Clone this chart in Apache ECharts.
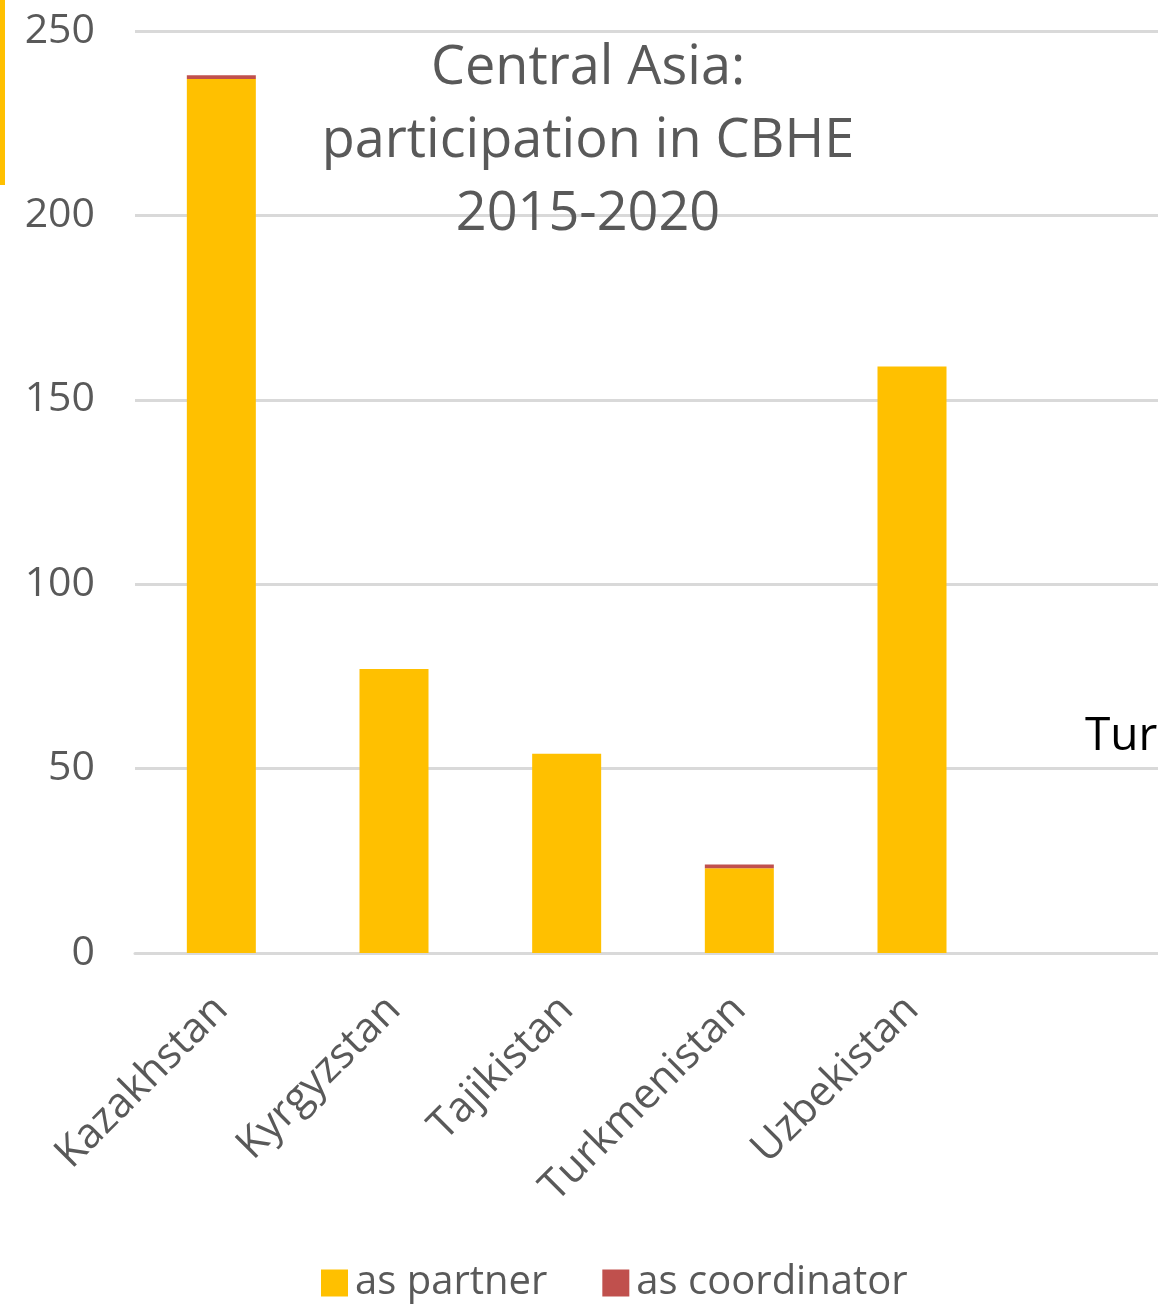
<!DOCTYPE html>
<html><head><meta charset="utf-8">
<script src="https://cdn.jsdelivr.net/npm/echarts@6/dist/echarts.min.js"></script>
<style>html,body{margin:0;padding:0;background:#fff;overflow:hidden}#c{width:1171px;height:1304px}</style>
</head><body><div id="c"></div>
<script>
const categories = ['Kazakhstan','Kyrgyzstan','Tajikistan','Turkmenistan','Uzbekistan',''];
const asPartner = [237, 77, 54, 23, 159, null];
const asCoordinator = [1, 0, 0, 1, 0, null];
const yTicks = [0, 50, 100, 150, 200, 250];
const titleLines = ['Central Asia:', 'participation in CBHE', '2015-2020'];

const chart = echarts.init(document.getElementById('c'));
const font = 'Open Sans';
chart.setOption({
  animation: false,
  backgroundColor: '#fff',
  title: {
    text: titleLines.join('\n'),
    left: 583, top: 27, textAlign: 'center',
    textStyle: { fontFamily: font, fontSize: 54, fontWeight: 'normal', color: '#595959', lineHeight: 73 }
  },
  legend: {
    bottom: -4, left: 316,
    itemWidth: 27, itemHeight: 27, itemGap: 55,
    icon: 'rect',
    textStyle: { fontFamily: font, fontSize: 40, color: '#595959', padding: [0,0,0,2] },
    data: ['as partner', 'as coordinator']
  },
  grid: { left: 135, right: 0, top: 31, bottom: 351 },
  xAxis: {
    type: 'category', data: categories,
    axisLine: { lineStyle: { color: '#d9d9d9', width: 3 } },
    axisTick: { show: false },
    axisLabel: { rotate: 45, fontFamily: font, fontSize: 42, color: '#595959', margin: 50, interval: 0 }
  },
  yAxis: {
    type: 'value', min: 0, max: 250, interval: 50,
    axisLabel: { fontFamily: font, fontSize: 41, color: '#595959', margin: 40 },
    splitLine: { lineStyle: { color: '#d9d9d9', width: 3 } },
    axisLine: { show: false }, axisTick: { show: false }
  },
  series: [
    { name: 'as partner', type: 'bar', stack: 't', barWidth: 69, data: asPartner, itemStyle: { color: '#FFC000' } },
    { name: 'as coordinator', type: 'bar', stack: 't', barWidth: 69, data: asCoordinator, itemStyle: { color: '#C0504D' } }
  ],
  graphic: [
    { type: 'rect', left: 0, top: 0, shape: { width: 5, height: 185 }, style: { fill: '#FFC000' } },
    { type: 'text', left: 1085, top: 714, style: { text: 'Tur', fontFamily: font, fontSize: 46, fill: '#000' } }
  ]
});
</script></body></html>
